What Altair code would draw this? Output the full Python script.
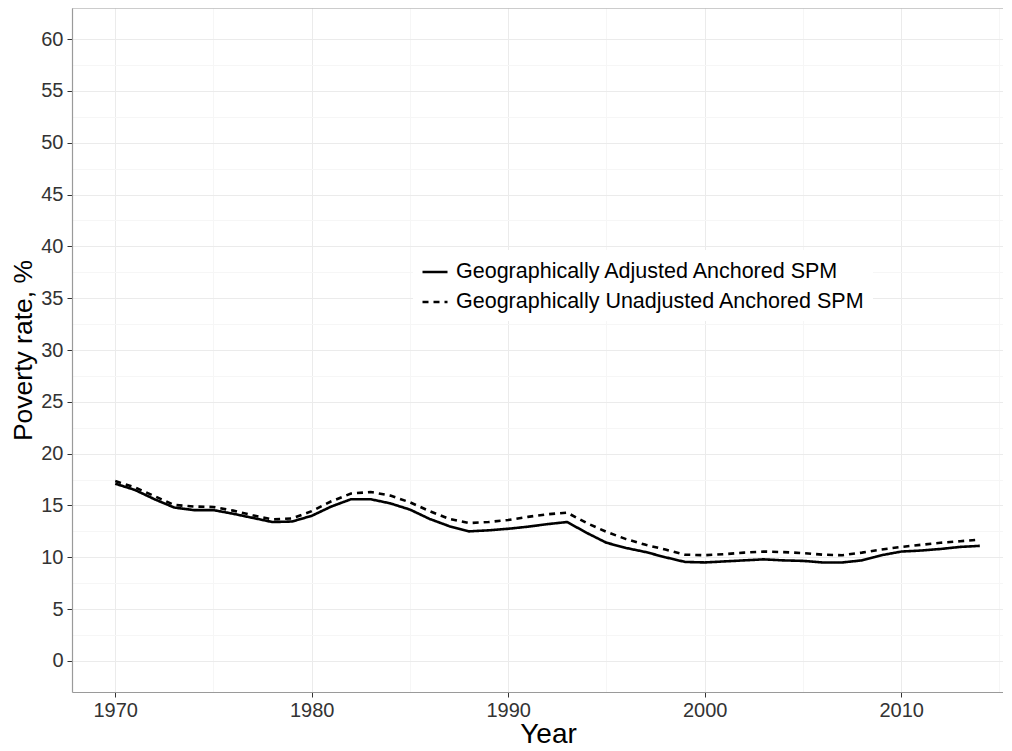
import altair as alt
import pandas as pd

years = list(range(1970, 2015))
adjusted = [17.1, 16.5, 15.6, 14.8, 14.55, 14.55, 14.2, 13.8, 13.4, 13.45,
            14.0, 14.9, 15.6, 15.6, 15.2, 14.6, 13.7, 13.0, 12.5, 12.6,
            12.75, 12.95, 13.2, 13.4, 12.35, 11.4, 10.9, 10.5, 10.0, 9.55,
            9.5, 9.6, 9.7, 9.8, 9.7, 9.65, 9.5, 9.5, 9.7, 10.2,
            10.55, 10.65, 10.8, 11.0, 11.1]
unadjusted = [17.35, 16.75, 15.9, 15.05, 14.9, 14.85, 14.5, 14.05, 13.65, 13.75,
              14.45, 15.4, 16.15, 16.3, 15.95, 15.3, 14.45, 13.7, 13.3, 13.4,
              13.6, 13.9, 14.15, 14.3, 13.3, 12.45, 11.75, 11.2, 10.75, 10.25,
              10.2, 10.3, 10.45, 10.55, 10.5, 10.4, 10.25, 10.2, 10.45, 10.75,
              11.0, 11.2, 11.4, 11.55, 11.7]
series_names = ["Geographically Adjusted Anchored SPM",
                "Geographically Unadjusted Anchored SPM"]
x_ticks = [1965, 1970, 1975, 1980, 1985, 1990, 1995, 2000, 2005, 2010, 2015]
y_ticks = [v / 2 for v in range(0, 121, 5)]

rows = []
for y, a, u in zip(years, adjusted, unadjusted):
    rows.append({"Year": y, "rate": a, "series": series_names[0]})
    rows.append({"Year": y, "rate": u, "series": series_names[1]})
df = pd.DataFrame(rows)

W, H = 931, 684
FONT = "Liberation Sans"

x_axis = alt.Axis(
    values=x_ticks,
    format="d",
    labelExpr="datum.value % 10 === 0 ? datum.label : ''",
    title="Year",
    titleFontSize=28, titleFontWeight="normal", titleColor="black",
    titlePadding=0, titleX=476, titleAlign="center",
    labelFontSize=20, labelColor="#333333", labelPadding=3,
    tickSize=5, tickColor="#333333",
    tickOpacity=alt.condition("datum.value % 10 === 0", alt.value(1), alt.value(0)),
    gridColor=alt.condition("datum.value % 10 === 0", alt.value("#EBEBEB"), alt.value("#F6F6F6")),
    domainColor="#9A9A9A", domainWidth=1.2,
    labelFlush=False,
)
y_axis = alt.Axis(
    values=y_ticks,
    labelExpr="datum.value % 5 === 0 ? format(datum.value, 'd') : ''",
    title="Poverty rate, %",
    titleFontSize=26.5, titleFontWeight="normal", titleColor="black",
    titlePadding=3,
    labelFontSize=20, labelColor="#333333", labelPadding=4,
    tickSize=5, tickColor="#333333",
    tickOpacity=alt.condition("datum.value % 5 === 0", alt.value(1), alt.value(0)),
    gridColor=alt.condition("datum.value % 5 === 0", alt.value("#EBEBEB"), alt.value("#F6F6F6")),
    domainColor="#9A9A9A", domainWidth=1.2,
    labelFlush=False,
)

lines = alt.Chart(df).mark_line(color="black", strokeWidth=2.6, clip=True).encode(
    x=alt.X("Year:Q", scale=alt.Scale(domain=[1967.8, 2015.18], nice=False, zero=False), axis=x_axis),
    y=alt.Y("rate:Q", scale=alt.Scale(domain=[-3, 63], nice=False, zero=False), axis=y_axis),
    strokeDash=alt.StrokeDash(
        "series:N",
        scale=alt.Scale(domain=series_names, range=[[1, 0], [6, 5]]),
        legend=alt.Legend(
            title=None, orient="none", legendX=341, legendY=242,
            fillColor="white", padding=8,
            labelFontSize=21.5, labelFont=FONT, labelColor="black", labelLimit=600,
            symbolType="stroke", symbolSize=625, symbolStrokeWidth=2.6,
            symbolStrokeColor="black", labelOffset=7, rowPadding=5,
        ),
    ),
)

top_border = alt.Chart(pd.DataFrame({"k": [0]})).mark_rule(color="#9A9A9A", strokeWidth=1.2).encode(
    x=alt.value(0), x2=alt.value(W), y=alt.value(0)
)

chart = (lines + top_border).properties(
    width=W, height=H,
    autosize=alt.AutoSizeParams(type="none"),
    padding={"left": 64, "top": 0, "right": 0, "bottom": 56},
).configure(font=FONT).configure_view(stroke=None)

chart.save("out.html", embed_options={"renderer": "svg", "actions": False})
